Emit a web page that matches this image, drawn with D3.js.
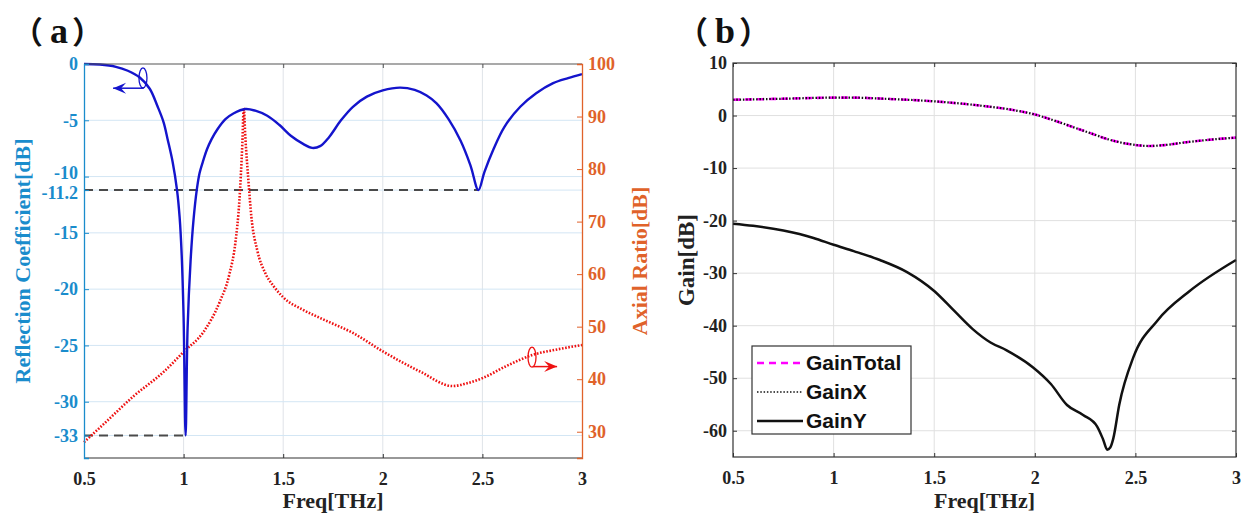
<!DOCTYPE html>
<html>
<head>
<meta charset="utf-8">
<script src="https://cdn.jsdelivr.net/npm/d3@7"></script>
<style>
  body { margin: 0; background: #fff; }
  svg { display: block; }
</style>
</head>
<body>
<svg id="chart" width="1247" height="518"></svg>
<script>
// ---- panel (a) data ----
const freqTicks = [0.5, 1, 1.5, 2, 2.5, 3];
const s11Ticks = [0, -5, -10, -11.2, -15, -20, -25, -30, -33];
const arTicks = [30, 40, 50, 60, 70, 80, 90, 100];

const s11Freq = [0.5, 0.58, 0.66, 0.72, 0.78, 0.83, 0.87, 0.9, 0.92, 0.945, 0.967, 0.98, 0.99, 1.0, 1.01,
  1.02, 1.035, 1.05, 1.066, 1.08, 1.1, 1.117, 1.14, 1.17, 1.21, 1.25, 1.31, 1.36, 1.42, 1.48, 1.54, 1.6,
  1.645, 1.685, 1.73, 1.79, 1.85, 1.92, 2.0, 2.086, 2.16, 2.22, 2.27, 2.33, 2.39, 2.44, 2.48, 2.51,
  2.555, 2.61, 2.69, 2.77, 2.855, 2.93, 3.0];
const s11Db = [0, -0.05, -0.25, -0.6, -1.2, -2.2, -3.8, -5.2, -6.7, -8.7, -11.2, -13.6, -16.8, -22.5, -33,
  -23.5, -17.5, -13.8, -11.2, -9.7, -8.5, -7.6, -6.7, -5.8, -4.9, -4.4, -4.0, -4.15, -4.6, -5.4, -6.4, -7.1,
  -7.45, -7.3, -6.5, -5.0, -3.8, -2.9, -2.35, -2.1, -2.3, -2.8, -3.5, -4.9, -6.8, -9.0, -11.2, -9.6,
  -7.6, -5.6, -3.8, -2.6, -1.7, -1.25, -0.9];

const arFreq = [0.5, 0.6, 0.75, 0.9, 1.0, 1.1, 1.18, 1.23, 1.26, 1.28, 1.295, 1.302, 1.31, 1.325, 1.34,
  1.37, 1.41, 1.45, 1.5, 1.6, 1.7, 1.85, 2.0, 2.19, 2.35, 2.42, 2.5, 2.62, 2.75, 2.88, 3.0];
const arDb = [28, 31.5, 36.8, 41.4, 45.2, 49, 54.6, 60, 66, 74, 85, 91.6, 86, 78, 71,
  64.5, 60.2, 57.8, 55.6, 53.2, 51.4, 48.8, 45.3, 41.4, 38.7, 39.2, 40.2, 42.5, 44.6, 45.7, 46.5];

// reference lines: [freq end, level]
const refLines = [[2.48, -11.2], [1.01, -33]];

// ---- panel (b) data ----
const gainTicks = [10, 0, -10, -20, -30, -40, -50, -60];
const gainFreq = [0.5, 0.75, 1.0, 1.1, 1.25, 1.5, 1.75, 1.9, 2.0, 2.1, 2.25, 2.4, 2.5, 2.57, 2.65, 2.75, 2.9, 3.0];
const gainTotal = [3.0, 3.2, 3.4, 3.4, 3.2, 2.7, 1.8, 1.0, 0.2, -1.0, -3.0, -4.9, -5.6, -5.8, -5.6, -5.1, -4.5, -4.2];
const gainX = [3.0, 3.2, 3.4, 3.4, 3.2, 2.7, 1.8, 1.0, 0.2, -1.0, -3.0, -4.9, -5.6, -5.8, -5.6, -5.1, -4.5, -4.2];
const gainYFreq = [0.5, 0.6, 0.75, 0.9, 1.0, 1.1, 1.23, 1.365, 1.5, 1.6, 1.69, 1.78, 1.86, 1.99, 2.08, 2.16,
  2.24, 2.31, 2.34, 2.36, 2.375, 2.39, 2.42, 2.49, 2.61, 2.77, 3.0];
const gainY = [-20.6, -21.0, -21.9, -23.3, -24.6, -25.8, -27.5, -29.8, -33.4, -37.2, -40.6, -43.2, -44.7, -47.9, -51.1, -55.1,
  -57.0, -59.2, -61.7, -63.6, -63.2, -61.5, -55, -46, -39, -33.4, -27.5];

const legendNames = ["GainTotal", "GainX", "GainY"];

const svg = d3.select("#chart");
const blueAxis = "#1a8ccc", orangeAxis = "#e0622a", curveBlue = "#1414cc";
const SERIF = "'Liberation Serif', 'Times New Roman', serif";
const CJK = "'Noto Sans CJK SC', 'Noto Sans CJK JP', sans-serif";

const serifText = (sel, size) => sel.style("font-family", SERIF).style("font-weight", "bold").style("font-size", size + "px");

// ================= panel (a) =================
const A = { left: 84, right: 582, top: 64, bottom: 458 };
const xa = d3.scaleLinear().domain([0.5, 3]).range([A.left, A.right]);
const ys = d3.scaleLinear().domain([-35, 0]).range([A.bottom, A.top]);
const yr = d3.scaleLinear().domain([25, 100]).range([A.bottom, A.top]);

const ga = svg.append("g");

// grid
ga.selectAll("line.vg").data(freqTicks.slice(1, -1)).enter().append("line")
  .attr("x1", d => xa(d)).attr("x2", d => xa(d))
  .attr("y1", A.top).attr("y2", A.bottom)
  .attr("stroke", "#dfe3e8").attr("stroke-width", 1);
ga.selectAll("line.hg").data(s11Ticks.slice(1)).enter().append("line")
  .attr("x1", A.left).attr("x2", A.right)
  .attr("y1", d => ys(d)).attr("y2", d => ys(d))
  .attr("stroke", "#d3e6f4").attr("stroke-width", 1);

// dashed reference lines
ga.selectAll("line.ref").data(refLines).enter().append("line")
  .attr("x1", A.left).attr("x2", d => xa(d[0]))
  .attr("y1", d => ys(d[1])).attr("y2", d => ys(d[1]))
  .attr("stroke", "#4a4a4a").attr("stroke-width", 2)
  .attr("stroke-dasharray", "9,6");

// curves
const s11Pts = s11Freq.map((f, i) => [f, s11Db[i]]);
const arPts = arFreq.map((f, i) => [f, arDb[i]]);

ga.append("path").datum(arPts)
  .attr("fill", "none").attr("stroke", "#ee1111").attr("stroke-width", 2.6)
  .attr("stroke-dasharray", "1.6,1.6")
  .attr("d", d3.line().x(d => xa(d[0])).y(d => yr(d[1])).curve(d3.curveMonotoneX));

ga.append("path").datum(s11Pts)
  .attr("fill", "none").attr("stroke", curveBlue).attr("stroke-width", 2.4)
  .attr("d", d3.line().x(d => xa(d[0])).y(d => ys(d[1])).curve(d3.curveCatmullRom.alpha(0.5)));

// frame lines
ga.append("line").attr("x1", A.left).attr("x2", A.right).attr("y1", A.top).attr("y2", A.top)
  .attr("stroke", "#555").attr("stroke-width", 1.2);
ga.append("line").attr("x1", A.left).attr("x2", A.right).attr("y1", A.bottom).attr("y2", A.bottom)
  .attr("stroke", "#333").attr("stroke-width", 1.2);

// axes
const fmt = d => String(d);

const xAxisA = ga.append("g").attr("transform", `translate(0,${A.bottom})`)
  .call(d3.axisBottom(xa).tickValues(freqTicks).tickFormat(fmt).tickSize(-4).tickPadding(14));
xAxisA.select(".domain").remove();
xAxisA.selectAll("line").attr("stroke", "#333");
xAxisA.selectAll("text").attr("fill", "#222").call(serifText, 18);

ga.append("g").attr("transform", `translate(0,${A.top})`)
  .call(d3.axisTop(xa).tickValues(freqTicks).tickFormat("").tickSize(-4))
  .call(g => { g.select(".domain").remove(); g.selectAll("line").attr("stroke", "#555"); });

const yAxisL = ga.append("g").attr("transform", `translate(${A.left},0)`)
  .call(d3.axisLeft(ys).tickValues(s11Ticks).tickFormat(fmt).tickSize(-5).tickPadding(6));
yAxisL.select(".domain").attr("stroke", blueAxis).attr("stroke-width", 1.3);
yAxisL.selectAll("line").attr("stroke", blueAxis);
yAxisL.selectAll("text").attr("fill", blueAxis).call(serifText, 18)
  .attr("dy", d => d === -10 ? "0.1em" : d === -11.2 ? "0.45em" : "0.32em");

const yAxisR = ga.append("g").attr("transform", `translate(${A.right},0)`)
  .call(d3.axisRight(yr).tickValues(arTicks).tickFormat(fmt).tickSize(-5).tickPadding(6));
yAxisR.select(".domain").attr("stroke", orangeAxis).attr("stroke-width", 1.3);
yAxisR.selectAll("line").attr("stroke", orangeAxis);
yAxisR.selectAll("text").attr("fill", orangeAxis).call(serifText, 18);

// axis titles
ga.append("text").call(serifText, 22)
  .attr("transform", `translate(30,${(A.top + A.bottom) / 2}) rotate(-90)`)
  .attr("text-anchor", "middle").attr("fill", blueAxis)
  .text("Reflection Coefficient[dB]");
ga.append("text").call(serifText, 22)
  .attr("transform", `translate(647,${(A.top + A.bottom) / 2}) rotate(-90)`)
  .attr("text-anchor", "middle").attr("fill", orangeAxis)
  .text("Axial Ratio[dB]");
ga.append("text").call(serifText, 22)
  .attr("x", (A.left + A.right) / 2).attr("y", 508)
  .attr("text-anchor", "middle").attr("fill", "#222")
  .text("Freq[THz]");

// panel labels with full-width brackets
function panelLabel(x, letter) {
  const t = svg.append("text").attr("x", x).attr("y", 43).attr("fill", "#111");
  t.append("tspan").style("font-family", CJK).style("font-weight", "bold").style("font-size", "31px").text("（");
  t.append("tspan").attr("dx", 7).call(serifText, 36).text(letter);
  t.append("tspan").attr("dx", 4).style("font-family", CJK).style("font-weight", "bold").style("font-size", "31px").text("）");
}
panelLabel(12, "a");

// annotations: ellipse + arrow
function marker(g, color, cx, cy, ax0, ax1, ay, yScale) {
  g.append("ellipse").attr("cx", xa(cx)).attr("cy", yScale(cy)).attr("rx", 4).attr("ry", 10)
    .attr("fill", "none").attr("stroke", color).attr("stroke-width", 1.3);
  const x0 = xa(ax0), x1 = xa(ax1), y = yScale(ay);
  g.append("line").attr("x1", x0).attr("x2", x1).attr("y1", y).attr("y2", y)
    .attr("stroke", color).attr("stroke-width", 1.5);
  const dir = x1 > x0 ? 1 : -1;
  g.append("path")
    .attr("d", `M${x1},${y} L${x1 - dir * 13},${y - 5.5} L${x1 - dir * 8},${y} L${x1 - dir * 13},${y + 5.5} Z`)
    .attr("fill", color);
}
marker(ga, curveBlue, 0.796, -1.24, 0.8, 0.646, -2.15, ys);
marker(ga, "#ee1111", 2.749, 44.2, 2.752, 2.875, 42.4, yr);

// ================= panel (b) =================
const B = { left: 733, right: 1236, top: 63, bottom: 457 };
const xb = d3.scaleLinear().domain([0.5, 3]).range([B.left, B.right]);
const yb = d3.scaleLinear().domain([-65, 10]).range([B.bottom, B.top]);
const gb = svg.append("g");

gb.selectAll("line.vg").data(freqTicks.slice(1, -1)).enter().append("line")
  .attr("x1", d => xb(d)).attr("x2", d => xb(d))
  .attr("y1", B.top).attr("y2", B.bottom)
  .attr("stroke", "#e0e0e0").attr("stroke-width", 1);
gb.selectAll("line.hg").data(gainTicks.slice(1)).enter().append("line")
  .attr("x1", B.left).attr("x2", B.right)
  .attr("y1", d => yb(d)).attr("y2", d => yb(d))
  .attr("stroke", "#e0e0e0").attr("stroke-width", 1);

const lineB = d3.line().x(d => xb(d[0])).y(d => yb(d[1])).curve(d3.curveMonotoneX);
const styles = [
  { color: "#ff00ff", width: 2.6, dash: "7,5" },
  { color: "#111", width: 2.2, dash: "1.5,1.8" },
  { color: "#111", width: 2.5, dash: null }
];

gb.append("path").datum(gainFreq.map((f, i) => [f, gainTotal[i]]))
  .attr("fill", "none").attr("stroke", styles[0].color).attr("stroke-width", styles[0].width)
  .attr("stroke-dasharray", styles[0].dash).attr("d", lineB);
gb.append("path").datum(gainFreq.map((f, i) => [f, gainX[i]]))
  .attr("fill", "none").attr("stroke", styles[1].color).attr("stroke-width", styles[1].width)
  .attr("stroke-dasharray", styles[1].dash).attr("d", lineB);
gb.append("path").datum(gainYFreq.map((f, i) => [f, gainY[i]]))
  .attr("fill", "none").attr("stroke", styles[2].color).attr("stroke-width", styles[2].width)
  .attr("d", lineB);

// frame
gb.append("rect").attr("x", B.left).attr("y", B.top)
  .attr("width", B.right - B.left).attr("height", B.bottom - B.top)
  .attr("fill", "none").attr("stroke", "#333").attr("stroke-width", 1.2);

const xAxisB = gb.append("g").attr("transform", `translate(0,${B.bottom})`)
  .call(d3.axisBottom(xb).tickValues(freqTicks).tickFormat(fmt).tickSize(-4).tickPadding(14));
xAxisB.select(".domain").remove();
xAxisB.selectAll("line").attr("stroke", "#333");
xAxisB.selectAll("text").attr("fill", "#222").call(serifText, 18);
gb.append("g").attr("transform", `translate(0,${B.top})`)
  .call(d3.axisTop(xb).tickValues(freqTicks).tickFormat("").tickSize(-4))
  .call(g => { g.select(".domain").remove(); g.selectAll("line").attr("stroke", "#333"); });

const yAxisB = gb.append("g").attr("transform", `translate(${B.left},0)`)
  .call(d3.axisLeft(yb).tickValues(gainTicks).tickFormat(fmt).tickSize(-4).tickPadding(6));
yAxisB.select(".domain").remove();
yAxisB.selectAll("line").attr("stroke", "#333");
yAxisB.selectAll("text").attr("fill", "#222").call(serifText, 18);
gb.append("g").attr("transform", `translate(${B.right},0)`)
  .call(d3.axisRight(yb).tickValues(gainTicks).tickFormat("").tickSize(-4))
  .call(g => { g.select(".domain").remove(); g.selectAll("line").attr("stroke", "#333"); });

gb.append("text").call(serifText, 23)
  .attr("transform", `translate(694,${(B.top + B.bottom) / 2}) rotate(-90)`)
  .attr("text-anchor", "middle").attr("fill", "#222")
  .text("Gain[dB]");
gb.append("text").call(serifText, 22)
  .attr("x", (B.left + B.right) / 2).attr("y", 508)
  .attr("text-anchor", "middle").attr("fill", "#222")
  .text("Freq[THz]");

panelLabel(677, "b");

// legend
const leg = gb.append("g").attr("transform", "translate(752,346)");
leg.append("rect").attr("width", 159).attr("height", 88)
  .attr("fill", "#fff").attr("stroke", "#333").attr("stroke-width", 1.2);
legendNames.forEach((name, i) => {
  const y = 17 + i * 29;
  leg.append("line").attr("x1", 5).attr("x2", 51).attr("y1", y).attr("y2", y)
    .attr("stroke", styles[i].color).attr("stroke-width", i === 1 ? 1.6 : styles[i].width)
    .attr("stroke-dasharray", styles[i].dash);
  leg.append("text").attr("x", 54).attr("y", y + 7)
    .style("font-family", "'Liberation Sans', Arial, sans-serif").style("font-weight", "bold")
    .style("font-size", "21px").attr("fill", "#111").text(name);
});
</script>
</body>
</html>
